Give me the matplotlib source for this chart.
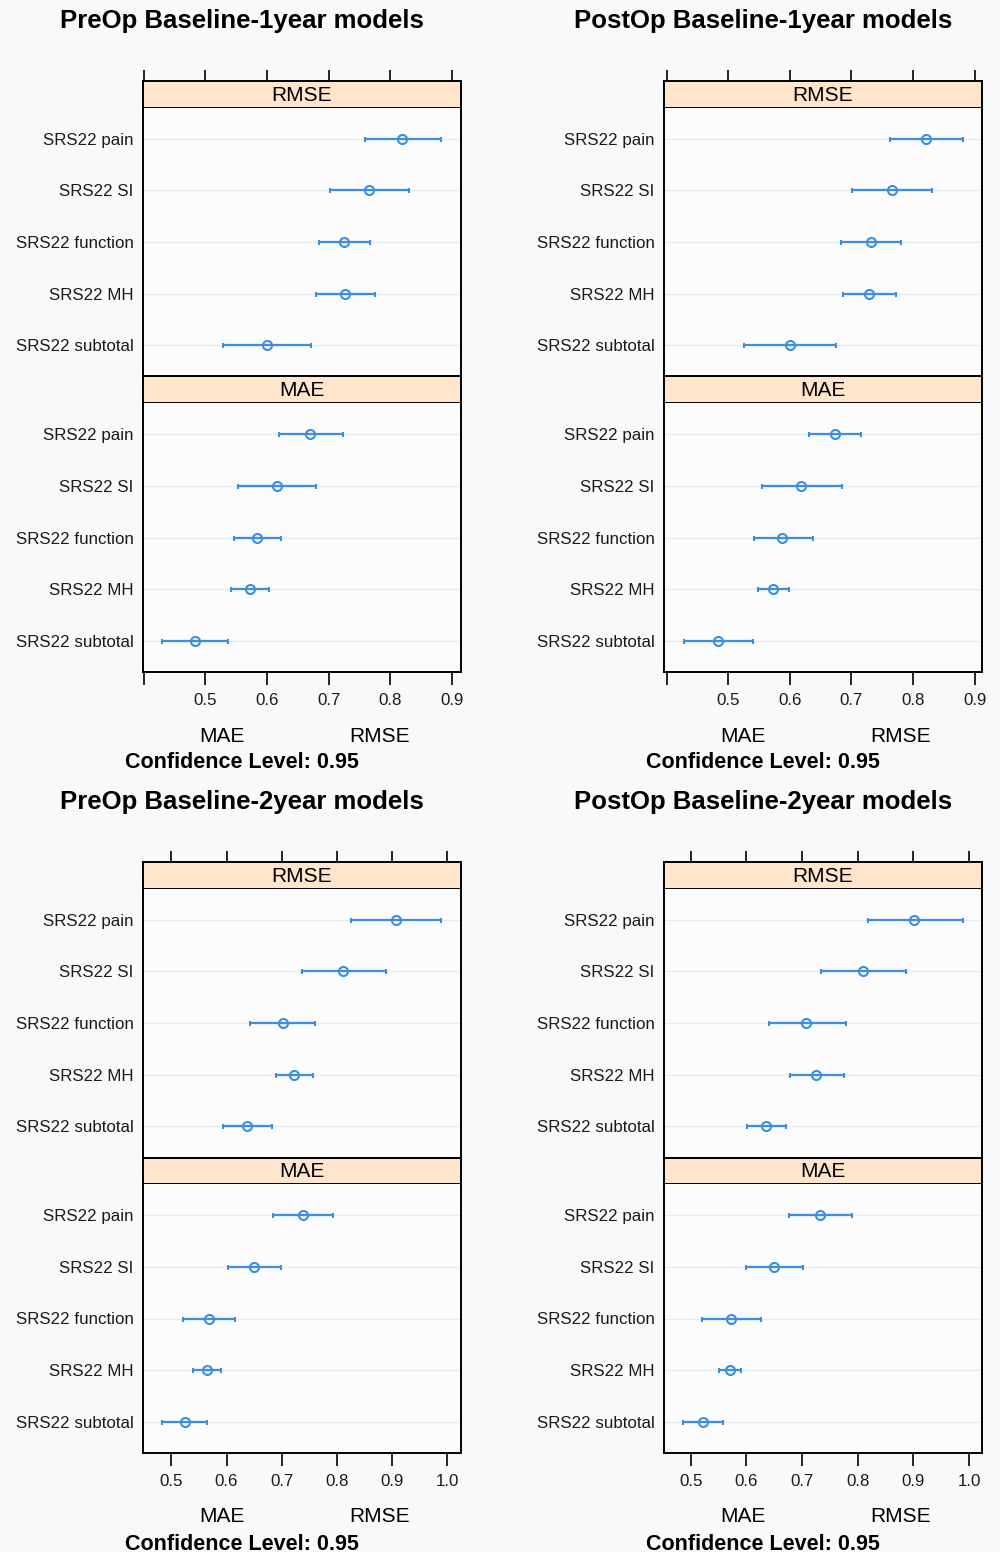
import matplotlib
matplotlib.use('Agg')
import matplotlib.pyplot as plt

plt.rcParams['font.family'] = ['Liberation Sans', 'DejaVu Sans']

# outcome rows, top to bottom
outcomes = ['SRS22 pain', 'SRS22 SI', 'SRS22 function', 'SRS22 MH', 'SRS22 subtotal']
panel_titles = ['PreOp Baseline-1year models', 'PostOp Baseline-1year models',
                'PreOp Baseline-2year models', 'PostOp Baseline-2year models']

# PreOp 1 year
pre1_rmse = [0.820, 0.766, 0.725, 0.727, 0.600]
pre1_rmse_lo = [0.759, 0.703, 0.685, 0.679, 0.528]
pre1_rmse_hi = [0.883, 0.831, 0.767, 0.775, 0.672]
pre1_mae = [0.670, 0.616, 0.584, 0.572, 0.483]
pre1_mae_lo = [0.619, 0.553, 0.547, 0.541, 0.430]
pre1_mae_hi = [0.724, 0.680, 0.623, 0.604, 0.537]

# PostOp 1 year
post1_rmse = [0.821, 0.765, 0.731, 0.729, 0.600]
post1_rmse_lo = [0.762, 0.701, 0.683, 0.687, 0.526]
post1_rmse_hi = [0.881, 0.831, 0.780, 0.772, 0.675]
post1_mae = [0.673, 0.618, 0.588, 0.573, 0.483]
post1_mae_lo = [0.631, 0.554, 0.542, 0.548, 0.428]
post1_mae_hi = [0.715, 0.684, 0.637, 0.598, 0.540]

# PreOp 2 year
pre2_rmse = [0.907, 0.811, 0.702, 0.722, 0.637]
pre2_rmse_lo = [0.826, 0.737, 0.643, 0.689, 0.594]
pre2_rmse_hi = [0.989, 0.888, 0.761, 0.757, 0.682]
pre2_mae = [0.738, 0.650, 0.568, 0.564, 0.524]
pre2_mae_lo = [0.685, 0.602, 0.522, 0.539, 0.484]
pre2_mae_hi = [0.792, 0.698, 0.615, 0.590, 0.565]

# PostOp 2 year
post2_rmse = [0.902, 0.810, 0.708, 0.726, 0.635]
post2_rmse_lo = [0.819, 0.734, 0.640, 0.678, 0.601]
post2_rmse_hi = [0.989, 0.887, 0.779, 0.775, 0.671]
post2_mae = [0.733, 0.649, 0.573, 0.571, 0.522]
post2_mae_lo = [0.677, 0.599, 0.520, 0.551, 0.487]
post2_mae_hi = [0.790, 0.701, 0.626, 0.591, 0.559]

models = [
    (pre1_rmse, pre1_rmse_lo, pre1_rmse_hi, pre1_mae, pre1_mae_lo, pre1_mae_hi),
    (post1_rmse, post1_rmse_lo, post1_rmse_hi, post1_mae, post1_mae_lo, post1_mae_hi),
    (pre2_rmse, pre2_rmse_lo, pre2_rmse_hi, pre2_mae, pre2_mae_lo, pre2_mae_hi),
    (post2_rmse, post2_rmse_lo, post2_rmse_hi, post2_mae, post2_mae_lo, post2_mae_hi),
]

W, H = 1000, 1552
BG = '#f8f9fb'
STRIP = '#ffe5cc'
BLUE = '#3b8ee0'
GRID = '#e4edf4'

fig = plt.figure(figsize=(W / 100, H / 100), dpi=100, facecolor=BG)


def px_axes(x0, y0, x1, y1):
    return fig.add_axes([x0 / W, 1 - y1 / H, (x1 - x0) / W, (y1 - y0) / H])


def draw_rows(ax, est, lo, hi, xlim):
    ys = list(range(len(outcomes), 0, -1))
    for y in ys:
        ax.axhline(y, color=GRID, lw=1, zorder=1)
    xerr = [[e - l for e, l in zip(est, lo)], [h - e for e, h in zip(est, hi)]]
    ax.errorbar(est, ys, xerr=xerr, fmt='o', color=BLUE, mfc='none', mec=BLUE,
                ms=6.5, mew=1.5, elinewidth=1.6, capsize=1.8, capthick=1, zorder=3)
    ax.set_xlim(*xlim)
    ax.set_ylim(0.4, len(outcomes) + 0.6)
    ax.set_yticks(ys)
    ax.set_yticklabels(outcomes, fontsize=12.2, color='#1a1a1a')
    ax.tick_params(axis='y', length=0, pad=7)
    ax.set_facecolor('#fcfcfd')
    for s in ax.spines.values():
        s.set_linewidth(1.4)


def draw_strip(x0, y0, x1, y1, label, xlim, ticks=None):
    sa = px_axes(x0, y0, x1, y1)
    sa.set_facecolor(STRIP)
    sa.set_xlim(*xlim)
    sa.set_yticks([])
    sa.text(0.5, 0.47, label, transform=sa.transAxes, ha='center', va='center', fontsize=15)
    for s in sa.spines.values():
        s.set_linewidth(1.4)
    if ticks is not None:
        sa.xaxis.tick_top()
        sa.set_xticks(ticks)
        sa.set_xticklabels([])
        sa.tick_params(axis='x', length=8, width=1.2, direction='out')
    else:
        sa.set_xticks([])
    return sa


# panel layout (pixels): left x, right x, top y of first strip, xlim, ticks, tick labels
layout = [
    (143.3, 460.7, 81, (0.399, 0.9146), [0.4, 0.5, 0.6, 0.7, 0.8, 0.9], ['', '0.5', '0.6', '0.7', '0.8', '0.9']),
    (664.3, 981.7, 81, (0.3962, 0.9114), [0.4, 0.5, 0.6, 0.7, 0.8, 0.9], ['', '0.5', '0.6', '0.7', '0.8', '0.9']),
    (143.3, 460.7, 862, (0.4493, 1.024), [0.5, 0.6, 0.7, 0.8, 0.9, 1.0], ['0.5', '0.6', '0.7', '0.8', '0.9', '1.0']),
    (664.3, 981.7, 862, (0.4527, 1.0228), [0.5, 0.6, 0.7, 0.8, 0.9, 1.0], ['0.5', '0.6', '0.7', '0.8', '0.9', '1.0']),
]

strip_h = 26.5
box_h = 269

for i, (x0, x1, top, xlim, ticks, tlabels) in enumerate(layout):
    rmse, rmse_lo, rmse_hi, mae, mae_lo, mae_hi = models[i]

    draw_strip(x0, top, x1, top + strip_h, 'RMSE', xlim, ticks)
    ax_r = px_axes(x0, top + strip_h, x1, top + strip_h + box_h)
    draw_rows(ax_r, rmse, rmse_lo, rmse_hi, xlim)
    ax_r.set_xticks([])
    ax_r.spines['top'].set_visible(False)

    mtop = top + strip_h + box_h
    draw_strip(x0, mtop, x1, mtop + strip_h, 'MAE', xlim)
    ax_m = px_axes(x0, mtop + strip_h, x1, mtop + strip_h + box_h)
    draw_rows(ax_m, mae, mae_lo, mae_hi, xlim)
    ax_m.spines['top'].set_visible(False)
    ax_m.set_xticks(ticks)
    ax_m.set_xticklabels(tlabels, fontsize=12.2, color='#1a1a1a')
    ax_m.tick_params(axis='x', length=9, width=1.2, direction='out', pad=6)

    bottom = mtop + strip_h + box_h
    xc = (x0 + x1) / 2
    col_x = 242 if x0 < 500 else 763
    fig.text(col_x / W, 1 - (top - 60) / H, panel_titles[i], ha='center', va='center',
             fontsize=18.5, fontweight='bold')
    fig.text((xc - 80) / W, 1 - (bottom + 64) / H, 'MAE', ha='center', va='center', fontsize=15)
    fig.text((xc + 78) / W, 1 - (bottom + 64) / H, 'RMSE', ha='center', va='center', fontsize=15)
    fig.text(col_x / W, 1 - (bottom + 91) / H, 'Confidence Level: 0.95', ha='center', va='center',
             fontsize=15.5, fontweight='bold')

fig.savefig('out.png', dpi=100, facecolor=BG)
